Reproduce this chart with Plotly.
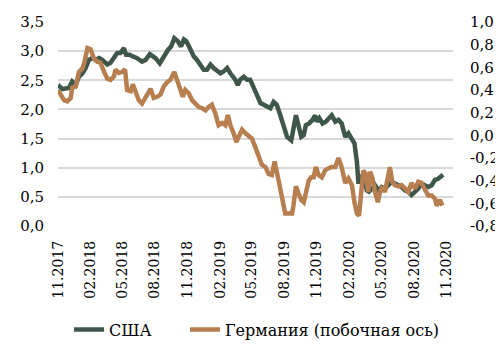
import pandas as pd
import plotly.graph_objects as go

start_date = "2017-11-01"

# USA 10Y yield (left axis): days since start_date, value
us_day = [0, 12, 31, 40, 50, 59, 69, 78, 87, 97, 106, 116, 125, 139, 148, 158, 167, 176, 186, 192,
          202, 211, 223, 237, 247, 259, 270, 275, 287, 298, 310, 319, 328, 338, 347, 355, 362, 372,
          383, 392, 402, 411, 420, 430, 439, 449, 458, 467, 477, 486, 500, 507, 514, 524, 533, 542,
          552, 561, 571, 580, 589, 599, 608, 617, 627, 636, 646, 658, 664, 671, 678, 686, 693, 699,
          708, 718, 725, 730, 737, 746, 755, 765, 772, 782, 791, 800, 810, 819, 829, 836, 843, 847,
          852, 861, 871, 877, 885, 894, 904, 913, 922, 932, 941, 950, 960, 969, 979, 988, 997, 1007,
          1016, 1025, 1035, 1044, 1054, 1063, 1072, 1082, 1086]
us_val = [2.42, 2.35, 2.37, 2.48, 2.42, 2.56, 2.62, 2.71, 2.85, 2.88, 2.85, 2.88, 2.85, 2.77, 2.80,
          2.91, 2.97, 2.97, 3.05, 2.94, 2.94, 2.91, 2.88, 2.82, 2.85, 2.95, 2.91, 2.88, 2.79, 2.91,
          3.02, 3.08, 3.22, 3.17, 3.08, 3.20, 3.17, 3.05, 2.91, 2.85, 2.74, 2.68, 2.68, 2.77, 2.71,
          2.65, 2.62, 2.65, 2.71, 2.62, 2.51, 2.42, 2.51, 2.56, 2.51, 2.51, 2.39, 2.25, 2.11, 2.08,
          2.05, 2.02, 2.13, 2.08, 1.90, 1.70, 1.53, 1.47, 1.65, 1.90, 1.73, 1.53, 1.56, 1.73, 1.76,
          1.82, 1.90, 1.79, 1.85, 1.76, 1.79, 1.85, 1.90, 1.79, 1.82, 1.76, 1.53, 1.59, 1.50, 1.42,
          1.10, 0.76, 0.76, 0.90, 0.61, 0.59, 0.64, 0.70, 0.61, 0.67, 0.64, 0.70, 0.76, 0.73, 0.70,
          0.67, 0.61, 0.59, 0.53, 0.59, 0.64, 0.73, 0.70, 0.67, 0.70, 0.79, 0.81, 0.87, 0.88]

# Germany 10Y yield (secondary axis)
de_day = [0, 8, 17, 26, 36, 40, 50, 59, 69, 75, 83, 92, 101, 111, 120, 130, 139, 148, 158, 162,
          172, 181, 189, 195, 205, 211, 219, 228, 237, 247, 261, 270, 280, 289, 298, 308, 317, 328,
          336, 345, 352, 359, 369, 378, 388, 397, 406, 416, 425, 434, 444, 453, 463, 472, 479, 486,
          495, 503, 510, 519, 528, 538, 547, 556, 566, 575, 585, 594, 603, 611, 617, 627, 633, 641,
          650, 660, 664, 671, 678, 686, 693, 699, 707, 714, 721, 727, 735, 744, 753, 763, 772, 782,
          791, 800, 810, 819, 829, 836, 843, 849, 855, 861, 868, 875, 880, 887, 894, 902, 908, 915,
          922, 930, 936, 943, 950, 960, 969, 979, 988, 997, 1007, 1016, 1025, 1035, 1044, 1054,
          1063, 1068, 1077, 1084]
de_val = [0.40, 0.36, 0.31, 0.30, 0.33, 0.42, 0.43, 0.56, 0.59, 0.65, 0.77, 0.76, 0.68, 0.65, 0.64,
          0.56, 0.50, 0.49, 0.52, 0.58, 0.55, 0.56, 0.58, 0.40, 0.39, 0.45, 0.39, 0.31, 0.28, 0.33,
          0.41, 0.33, 0.34, 0.36, 0.43, 0.47, 0.49, 0.56, 0.49, 0.43, 0.34, 0.40, 0.37, 0.31, 0.27,
          0.25, 0.24, 0.22, 0.25, 0.27, 0.19, 0.09, 0.11, 0.09, 0.18, 0.09, 0.02, -0.06, -0.01, 0.05,
          0.02, -0.01, -0.03, -0.10, -0.20, -0.26, -0.28, -0.34, -0.35, -0.23, -0.32, -0.47, -0.59,
          -0.69, -0.69, -0.69, -0.62, -0.45, -0.51, -0.57, -0.59, -0.50, -0.40, -0.37, -0.37, -0.28,
          -0.35, -0.37, -0.31, -0.29, -0.28, -0.28, -0.20, -0.28, -0.42, -0.38, -0.44, -0.59, -0.69,
          -0.71, -0.53, -0.31, -0.34, -0.50, -0.32, -0.38, -0.50, -0.59, -0.50, -0.45, -0.50, -0.38,
          -0.28, -0.41, -0.44, -0.45, -0.44, -0.47, -0.50, -0.42, -0.47, -0.41, -0.42, -0.48, -0.53,
          -0.53, -0.56, -0.62, -0.57, -0.62]

tick_dates = ["2017-11-01", "2018-02-01", "2018-05-01", "2018-08-01", "2018-11-01", "2019-02-01",
              "2019-05-01", "2019-08-01", "2019-11-01", "2020-02-01", "2020-05-01", "2020-08-01",
              "2020-11-01"]
tick_labels = ["11.2017", "02.2018", "05.2018", "08.2018", "11.2018", "02.2019", "05.2019",
               "08.2019", "11.2019", "02.2020", "05.2020", "08.2020", "11.2020"]

y1_ticks = [0.0, 0.5, 1.0, 1.5, 2.0, 2.5, 3.0, 3.5]
y1_labels = ["0,0", "0,5", "1,0", "1,5", "2,0", "2,5", "3,0", "3,5"]
y2_ticks = [-0.8, -0.6, -0.4, -0.2, 0.0, 0.2, 0.4, 0.6, 0.8, 1.0]
y2_labels = ["-0,8", "-0,6", "-0,4", "-0,2", "0,0", "0,2", "0,4", "0,6", "0,8", "1,0"]

names = ["США", "Германия (побочная ось)"]
colors = ["#3f574b", "#b77e4f"]

t0 = pd.Timestamp(start_date)
us_x = [t0 + pd.Timedelta(days=d) for d in us_day]
de_x = [t0 + pd.Timedelta(days=d) for d in de_day]

FONT = "DejaVu Serif"
# the page body adds an 8px offset, so the figure is sized to the remaining window
W, H = 495, 353
ML, MR, MT, MB = 50, 50, 14, 135
PW = W - ML - MR

fig = go.Figure()
fig.add_trace(go.Scatter(x=us_x, y=us_val, name=names[0], mode="lines", legend="legend",
                         line=dict(color=colors[0], width=4.5)))
fig.add_trace(go.Scatter(x=de_x, y=de_val, name=names[1], mode="lines", yaxis="y2",
                         legend="legend2", line=dict(color=colors[1], width=4.5)))

leg_common = dict(orientation="h", y=-0.508, yanchor="middle", xanchor="left",
                  font=dict(family=FONT, size=16, color="#000000"),
                  bgcolor="rgba(0,0,0,0)", borderwidth=0)

fig.update_layout(
    width=W, height=H,
    margin=dict(l=ML, r=MR, t=MT, b=MB, autoexpand=False),
    plot_bgcolor="white", paper_bgcolor="white",
    font=dict(family=FONT, size=15, color="#000000"),
    showlegend=True,
    legend=dict(x=(61 - ML) / PW, **leg_common),
    legend2=dict(x=(177 - ML) / PW, **leg_common),
    xaxis=dict(type="date", range=["2017-11-01", "2020-11-19"], automargin=False,
               tickmode="array", tickvals=tick_dates, ticktext=tick_labels,
               tickangle=-90, showgrid=False, zeroline=False, showline=False,
               ticks="", ticklabelstandoff=11,
               tickfont=dict(family=FONT, size=14, color="#000000")),
    yaxis=dict(range=[0, 3.5], tickmode="array", tickvals=y1_ticks, ticktext=y1_labels,
               automargin=False,
               showgrid=True, gridcolor="#d9d9d9", gridwidth=2,
               zeroline=False, showline=False, ticks="", ticklabelstandoff=13,
               tickfont=dict(family=FONT, size=15, color="#000000")),
    yaxis2=dict(range=[-0.8, 1.0], tickmode="array", tickvals=y2_ticks, ticktext=y2_labels,
                automargin=False,
                overlaying="y", side="right", showgrid=False, zeroline=False,
                showline=False, ticks="", ticklabelstandoff=16,
                tickfont=dict(family=FONT, size=15, color="#000000")),
)

fig.write_html("out.html")
